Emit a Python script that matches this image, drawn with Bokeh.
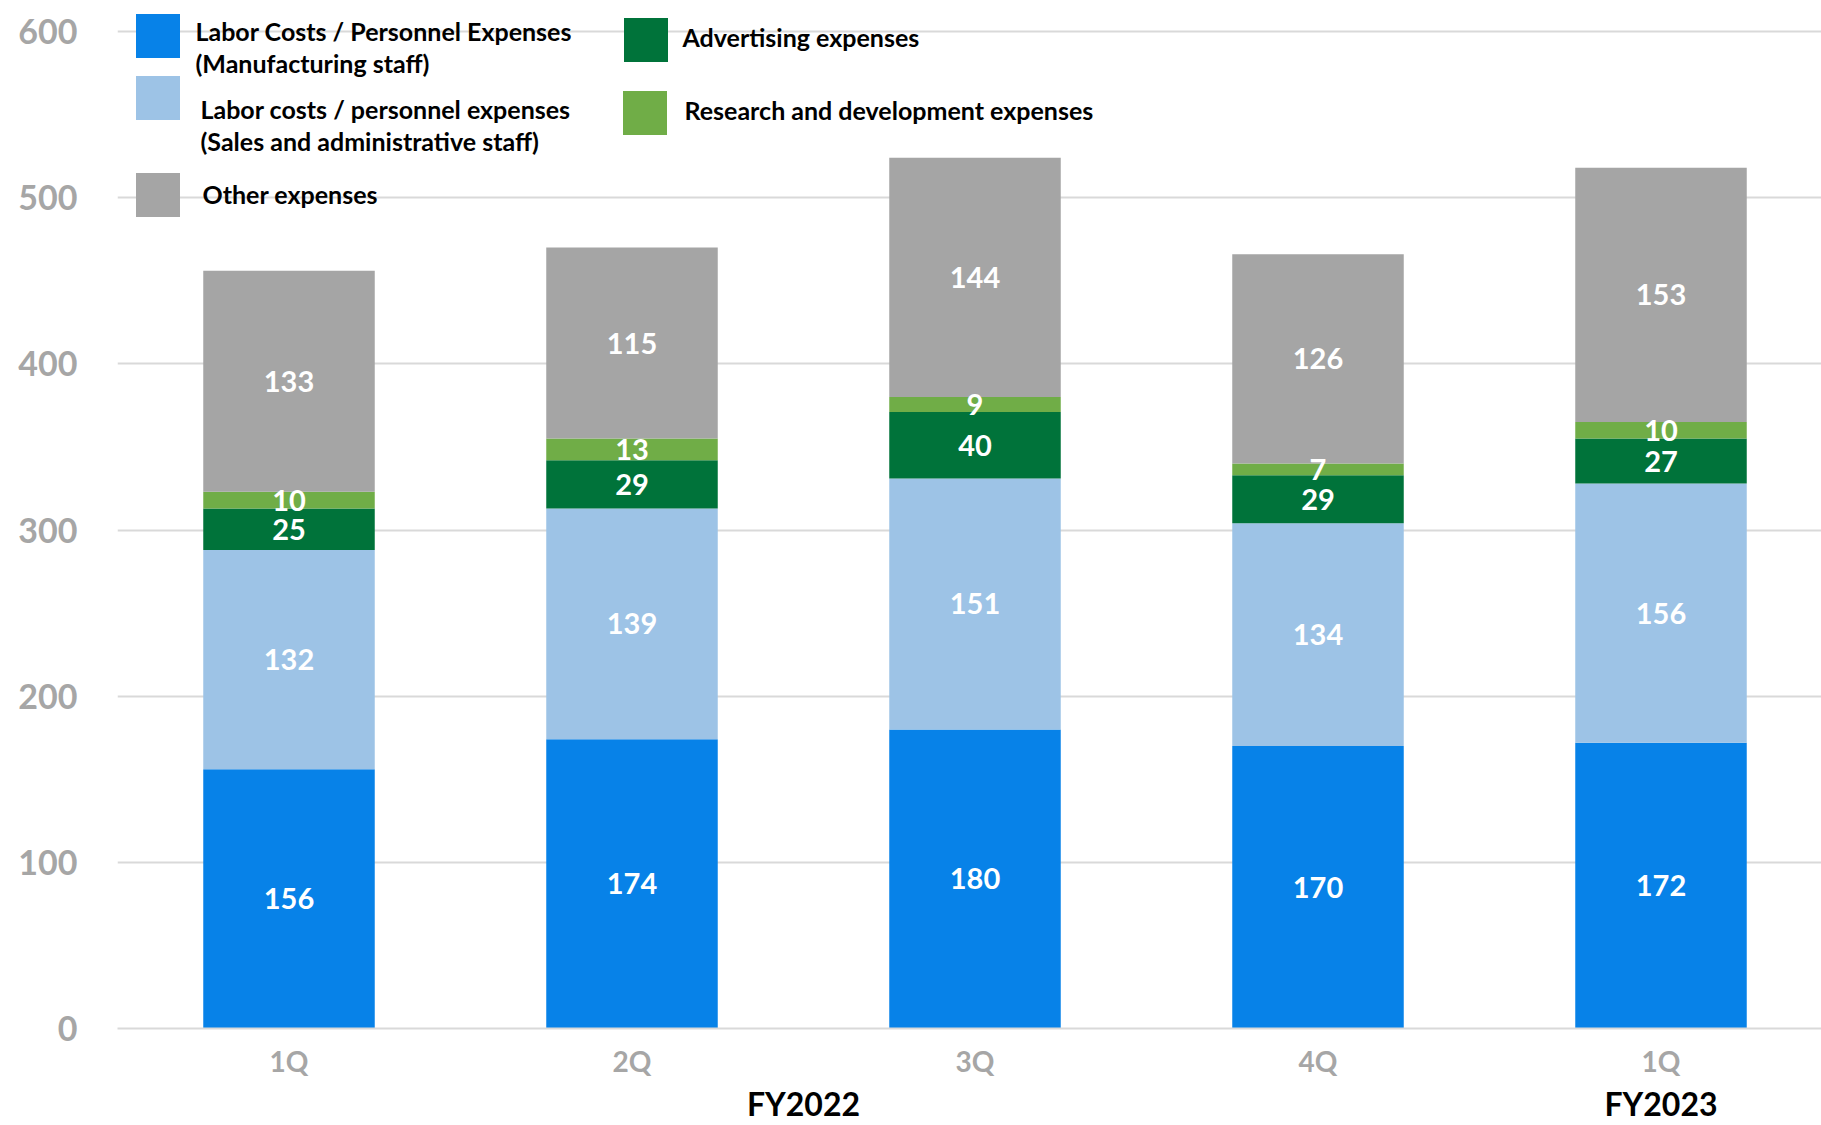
from bokeh.plotting import figure
from bokeh.models import (ColumnDataSource, Range1d, LabelSet, Label,
                          Legend, LegendItem, FixedTicker, LinearAxis)
from bokeh.core.properties import value
from bokeh.embed import file_html
from bokeh.resources import INLINE

# Quarterly cost breakdown
years = ["FY2022", "FY2022", "FY2022", "FY2022", "FY2023"]
quarters = ["1Q", "2Q", "3Q", "4Q", "1Q"]

manufacturing = [156, 174, 180, 170, 172]
sales_admin = [132, 139, 151, 134, 156]
advertising = [25, 29, 40, 29, 27]
research = [10, 13, 9, 7, 10]
other = [133, 115, 144, 126, 153]

series_names = ["manufacturing", "sales_admin", "advertising", "research", "other"]
series_values = [manufacturing, sales_admin, advertising, research, other]
series_colors = ["#0782E8", "#9DC3E6", "#00733A", "#70AD47", "#A5A5A5"]
series_labels = [
    ["Labor Costs / Personnel Expenses", "(Manufacturing staff)"],
    ["Labor costs / personnel expenses", "(Sales and administrative staff)"],
    ["Advertising expenses"],
    ["Research and development expenses"],
    ["Other expenses"],
]
y_ticks = [0, 100, 200, 300, 400, 500, 600]

FONT = "Lato"
W, H = 1821, 1125
LEFT, BOTTOM = 117, 97
SLOT_PX = 343  # width of one quarter slot

# one slot per quarter, bars centred in their slot
n = len(quarters)
xpos = [i + 0.5 for i in range(n)]
data = {"x": xpos}
for name, vals in zip(series_names, series_values):
    data[name] = vals
source = ColumnDataSource(data)

# y scale: 600 sits ~31px below the top of the frame
frame_h = H - BOTTOM
y_end = 600 * frame_h / (frame_h - 31)
x_end = (W - LEFT) / SLOT_PX

p = figure(width=W, height=H, x_range=Range1d(0, x_end),
           y_range=Range1d(0, y_end), output_backend="svg", toolbar_location=None,
           min_border_left=LEFT, min_border_right=0, min_border_top=0,
           min_border_bottom=0)
p.outline_line_color = None
p.background_fill_color = "white"

renderers = p.vbar_stack(series_names, x="x", width=0.5, color=series_colors,
                         line_color=None, source=source)

# Value labels centred in every segment
lx, ly, lt = [], [], []
base = [0] * n
for vals in series_values:
    for i, v in enumerate(vals):
        lx.append(xpos[i])
        ly.append(base[i] + v / 2)
        lt.append(str(v))
        base[i] += v
lab_src = ColumnDataSource(dict(x=lx, y=ly, t=lt))
p.add_layout(LabelSet(x="x", y="y", text="t", source=lab_src,
                      text_align="center", text_baseline="middle",
                      text_color="white", text_font=value(FONT),
                      text_font_style="bold", text_font_size="29px"))

# Axes
p.ygrid.grid_line_color = "#D9D9D9"
p.ygrid.grid_line_width = 2
p.xgrid.grid_line_color = None
p.yaxis.ticker = FixedTicker(ticks=y_ticks)
p.yaxis.axis_line_color = None
p.yaxis.major_tick_line_color = None
p.yaxis.minor_tick_line_color = None
p.yaxis.major_label_text_font = FONT
p.yaxis.major_label_text_font_style = "bold"
p.yaxis.major_label_text_font_size = "34px"
p.yaxis.major_label_text_color = "#A6A6A6"
p.yaxis.major_label_standoff = 34

# quarter labels
p.xaxis.ticker = FixedTicker(ticks=xpos)
p.xaxis.major_label_overrides = {x: q for x, q in zip(xpos, quarters)}
p.xaxis.axis_line_color = "#D9D9D9"
p.xaxis.axis_line_width = 2
p.xaxis.major_tick_line_color = None
p.xaxis.minor_tick_line_color = None
p.xaxis.major_label_text_font = FONT
p.xaxis.major_label_text_font_style = "bold"
p.xaxis.major_label_text_font_size = "28px"
p.xaxis.major_label_text_color = "#A6A6A6"
p.xaxis.major_label_standoff = 9

# fiscal-year labels centred under their quarters
fy_pos = {}
for x, y in zip(xpos, years):
    fy_pos.setdefault(y, []).append(x)
fy_ticks = [sum(v) / len(v) for v in fy_pos.values()]
fy_axis = LinearAxis(ticker=FixedTicker(ticks=fy_ticks),
                     major_label_overrides={t: y for t, y in zip(fy_ticks, fy_pos)},
                     axis_line_color=None, major_tick_line_color=None,
                     minor_tick_line_color=None, major_label_standoff=-3,
                     major_label_text_font=FONT, major_label_text_font_style="bold",
                     major_label_text_font_size="32px", major_label_text_color="black")
p.add_layout(fy_axis, "below")

# Legend: swatch blocks plus text lines, placed in the upper-left area
FB = H - BOTTOM  # frame bottom in page pixels
GS = 55          # swatch box (the drawn square is 80% of it)
legend_spec = [
    # swatch x, swatch centre y, text x, text line centres y
    (13, 35.5, 78, [30, 62]),     # manufacturing
    (13, 97, 83, [108, 140]),     # sales / admin
    (501, 39, 565, [36]),         # advertising
    (500, 112.5, 567, [109]),     # research
    (13, 194.5, 85, [193]),       # other
]
for r, lines, (gx, gy, tx, tys) in zip(renderers, series_labels, legend_spec):
    leg = Legend(items=[LegendItem(label="", renderers=[r])],
                 location=(gx, FB - gy - GS / 2),
                 orientation="vertical", padding=0, margin=0, spacing=0,
                 glyph_width=GS, glyph_height=GS, label_standoff=0,
                 label_width=0, label_height=0,
                 border_line_color=None, background_fill_alpha=0)
    p.add_layout(leg, "center")
    for line, ty in zip(lines, tys):
        p.add_layout(Label(x=tx, y=FB - ty, x_units="screen", y_units="screen",
                           text=line, text_align="left", text_baseline="middle",
                           text_font=FONT, text_font_style="bold",
                           text_font_size="25px", text_color="black"))

open("out.html", "w").write(file_html(p, INLINE))
